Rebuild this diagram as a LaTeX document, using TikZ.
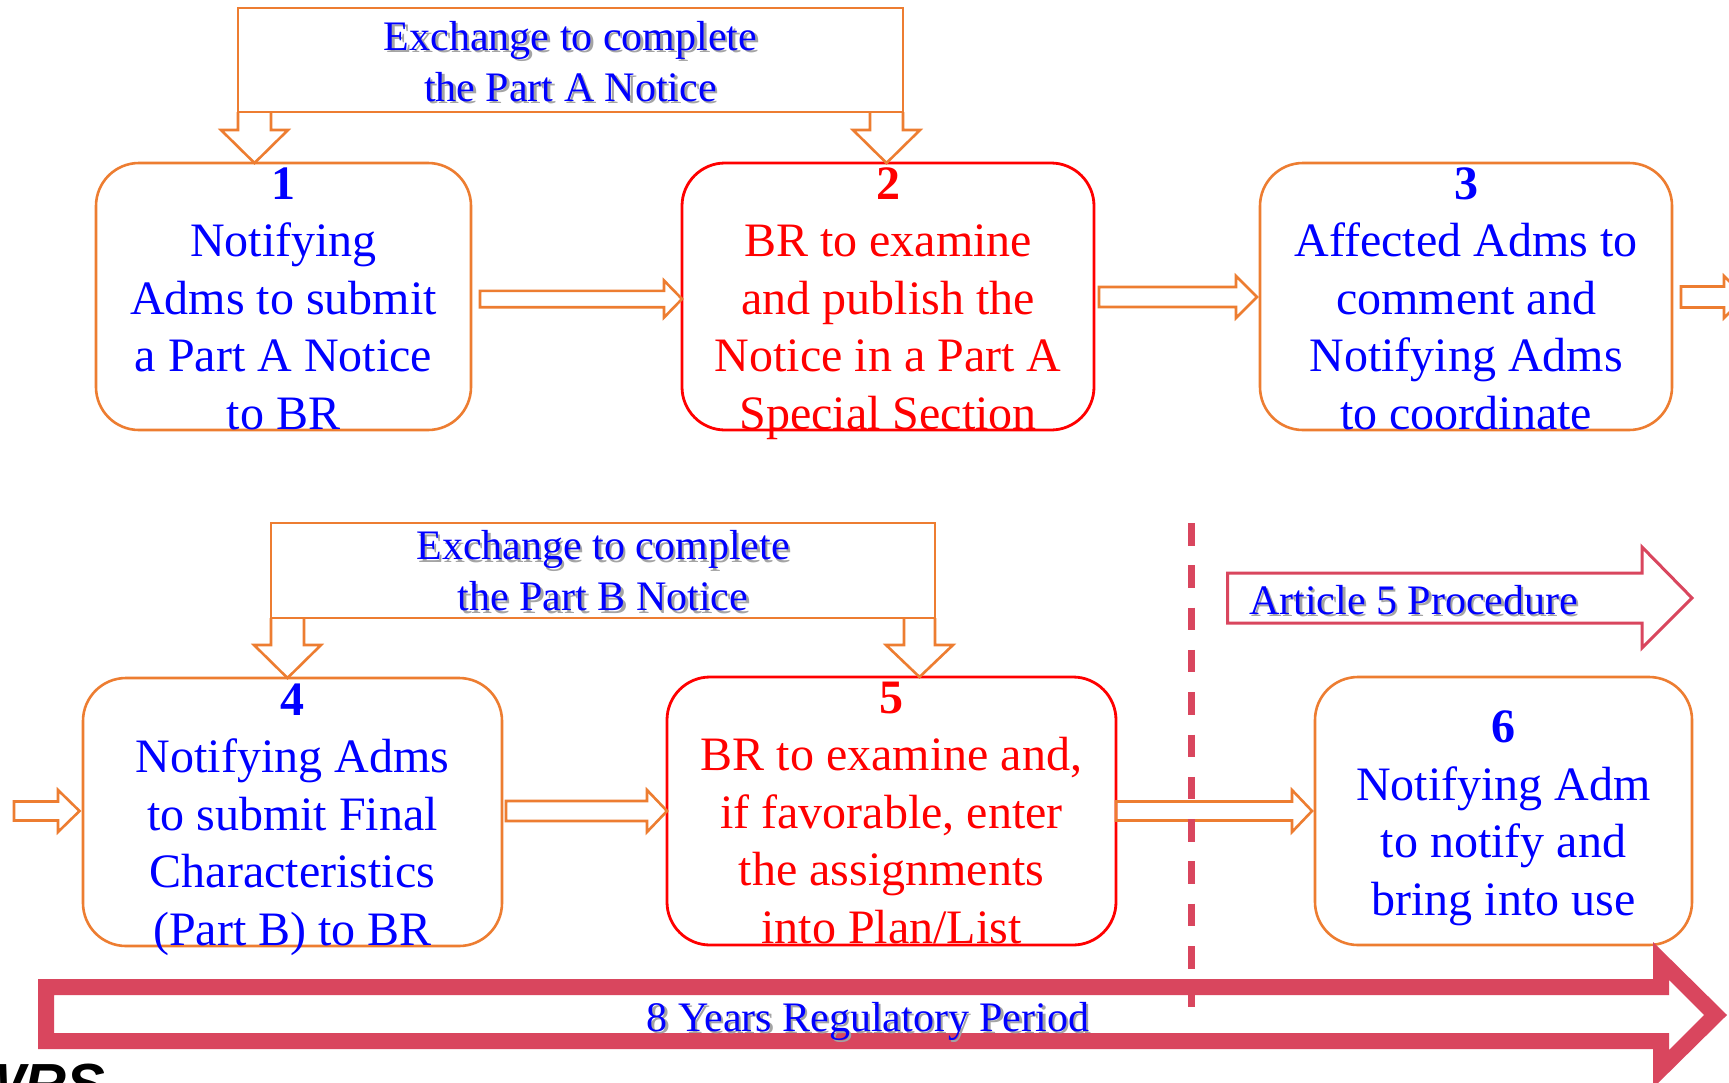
\documentclass[tikz,border=0pt]{standalone}
\usepackage{fontspec}
\setmainfont{Liberation Serif}
\newfontfamily\logofont{Liberation Sans}
\usetikzlibrary{calc}

\definecolor{flowOrange}{HTML}{ED7D31}
\definecolor{flowCrimson}{HTML}{D9465E}
\definecolor{flowBlue}{HTML}{0000FF}
\definecolor{flowRed}{HTML}{FF0000}
\definecolor{shadowGray}{HTML}{A4A4A4}

% hollow block arrow pointing right: start, tip, shaft half-height, head half-height, head length
\newcommand\flowarrowH[5]{%
  \draw[blockarrow] let \p1=(#1), \p2=(#2) in
    (\x1,\y1+#3pt) -- (\x2-#5pt,\y1+#3pt) -- (\x2-#5pt,\y1+#4pt) -- (\x2,\y1)
    -- (\x2-#5pt,\y1-#4pt) -- (\x2-#5pt,\y1-#3pt) -- (\x1,\y1-#3pt) -- cycle;}
% hollow block arrow pointing down: start, tip, shaft half-width, head half-width, head length
\newcommand\flowarrowV[5]{%
  \draw[blockarrow] let \p1=(#1), \p2=(#2) in
    (\x1-#3pt,\y1) -- (\x1-#3pt,\y2+#5pt) -- (\x1-#4pt,\y2+#5pt) -- (\x1,\y2)
    -- (\x1+#4pt,\y2+#5pt) -- (\x1+#3pt,\y2+#5pt) -- (\x1+#3pt,\y1);}

\begin{document}
\begin{tikzpicture}[x=1pt,y=-1pt,
  procbox/.style={rectangle, rounded corners=43pt, line width=2.6pt, fill=white,
    inner sep=0pt, outer sep=0pt},
  orangebox/.style={procbox, draw=flowOrange},
  redbox/.style={procbox, draw=flowRed, line width=2.8pt},
  exbox/.style={rectangle, draw=flowOrange, line width=2.6pt, fill=white,
    inner sep=0pt, outer sep=0pt},
  blockarrow/.style={draw=flowOrange, line width=2.6pt, line join=miter},
  % multi-line texts are placed by the baseline of their last line
  bodytext/.style={align=center, inner sep=0pt, anchor=base,
    font=\fontsize{48}{57.5}\selectfont},
  labeltext/.style={align=center, inner sep=0pt, anchor=base,
    font=\fontsize{42}{51}\selectfont, text=flowBlue},
  labelshadow/.style={labeltext, text=shadowGray},
]
\useasboundingbox (0,0) rectangle (1729,1082);
\fill[white] (0,0) rectangle (1729,1082);

% exchange boxes
\node[exbox, minimum width=665pt, minimum height=104pt] (exA) at (570.5,60) {};
\node[exbox, minimum width=664pt, minimum height=95pt] (exB) at (603,570.5) {};

% process boxes
\node[orangebox, minimum width=375pt, minimum height=267pt] (b1) at (283.5,296.5) {};
\node[redbox,    minimum width=412pt, minimum height=267pt] (b2) at (888,296.5) {};
\node[orangebox, minimum width=412pt, minimum height=267pt] (b3) at (1466,296.5) {};
\node[orangebox, minimum width=419pt, minimum height=268pt] (b4) at (292.5,812) {};
\node[redbox,    minimum width=449pt, minimum height=268pt] (b5) at (891.5,811) {};
\node[orangebox, minimum width=377pt, minimum height=268pt] (b6) at (1503.5,811) {};

% arrows from the exchange boxes
\coordinate (aLs) at ([xshift=16.5pt]exA.south west);
\coordinate (aRs) at ([xshift=-16.5pt]exA.south east);
\coordinate (bLs) at ([xshift=16.5pt]exB.south west);
\coordinate (bRs) at ([xshift=-15.5pt]exB.south east);
\flowarrowV{aLs}{aLs |- b1.north}{16.5}{33.5}{33}
\flowarrowV{aRs}{aRs |- b2.north}{16.5}{33.5}{33}
\flowarrowV{bLs}{bLs |- b4.north}{16.5}{33.5}{33}
\flowarrowV{bRs}{bRs |- b5.north}{15.5}{33.5}{32}

% arrows between the steps
\coordinate (a12s) at ($(b1.east)+(9,2.5)$);
\coordinate (a23s) at ($(b2.east)+(5,0.5)$);
\coordinate (a23e) at ($(b3.west)+(-3,0)$);
\coordinate (a3s)  at ($(b3.east)+(9,0.5)$);
\coordinate (a3e)  at (1745,297);
\coordinate (a4s)  at (14,811);
\coordinate (a4e)  at ($(b4.west)+(-3.5,0)$);
\coordinate (a45s) at ($(b4.east)+(4,-1)$);
\coordinate (a56s) at ($(b5.east)+(0,0)$);
\coordinate (a56e) at ($(b6.west)+(-3,0)$);
\flowarrowH{a12s}{b2.west}{8.2}{18.5}{18}
\flowarrowH{a23s}{a23e}{10}{21}{21}
\flowarrowH{a3s}{a3e}{10.5}{21}{21}
\flowarrowH{a4s}{a4e}{9.5}{21}{21.5}
\flowarrowH{a45s}{b5.west}{10}{21}{20}
\flowarrowH{a56s}{a56e}{9.5}{21}{20}

% Article 5 arrow
\draw[flowCrimson, line width=3pt, line join=miter]
  (1227.5,573) -- (1642,573) -- (1642,547) -- (1692,598) -- (1642,648)
  -- (1642,623) -- (1227.5,623) -- cycle;

% regulatory period arrow
\fill[flowCrimson, even odd rule]
  (38,979) -- (1653,979) -- (1653,942) -- (1727,1015) -- (1653,1088)
  -- (1653,1049) -- (38,1049) -- cycle
  (54,995) -- (1669,995) -- (1669,980) -- (1704,1015) -- (1669,1050)
  -- (1669,1033) -- (54,1033) -- cycle;

% separation between the phases
\draw[flowCrimson, line width=6.3pt, dash pattern=on 22.5pt off 19.8pt]
  (1191.5,523) -- (1191.5,1007);

% step texts
\node[bodytext, text=flowBlue] (t1) at (b1.north |- 0,429)
  {\textbf{1}\\Notifying\\Adms to submit\\a Part A Notice\\to BR};
\node[bodytext, text=flowRed] (t2) at (b2.north |- 0,429)
  {\textbf{2}\\BR to examine\\and publish the\\Notice in a Part A\\Special Section};
\node[bodytext, text=flowBlue] (t3) at (b3.north |- 0,429)
  {\textbf{3}\\Affected Adms to\\comment and\\Notifying Adms\\to coordinate};
\node[bodytext, text=flowBlue] (t4) at (b4.north |- 0,945)
  {\textbf{4}\\Notifying Adms\\to submit Final\\Characteristics\\(Part B) to BR};
\node[bodytext, text=flowRed] (t5) at (b5.north |- 0,943)
  {\textbf{5}\\BR to examine and,\\if favorable, enter\\the assignments\\into Plan/List};
\node[bodytext, text=flowBlue] (t6) at (b6.north |- 0,915)
  {\textbf{6}\\Notifying Adm\\to notify and\\bring into use};

% labels with soft shadow
\node[labelshadow] (exAs) at ($(exA.north |- 0,101)+(2.5,2.5)$)
  {Exchange to complete\\the Part A Notice};
\node[labeltext] (exAt) at (exA.north |- 0,101)
  {Exchange to complete\\the Part A Notice};
\node[labelshadow] (exBs) at ($(exB.north |- 0,610.5)+(2.5,2.5)$)
  {Exchange to complete\\the Part B Notice};
\node[labeltext] (exBt) at (exB.north |- 0,610.5)
  {Exchange to complete\\the Part B Notice};
\node[labelshadow, anchor=base west] (art5s) at (1251.5,616.5) {Article 5 Procedure};
\node[labeltext, anchor=base west] (art5) at (1249,614) {Article 5 Procedure};
\node[labelshadow] (periods) at (870.5,1033.5) {8 Years Regulatory Period};
\node[labeltext] (period) at (868,1031) {8 Years Regulatory Period};

% footer logo
\node[anchor=base west, inner sep=0pt, text=black,
  font=\logofont\bfseries\itshape\fontsize{58}{60}\selectfont] (logo) at (-30,1104) {WRS};
\end{tikzpicture}
\end{document}
